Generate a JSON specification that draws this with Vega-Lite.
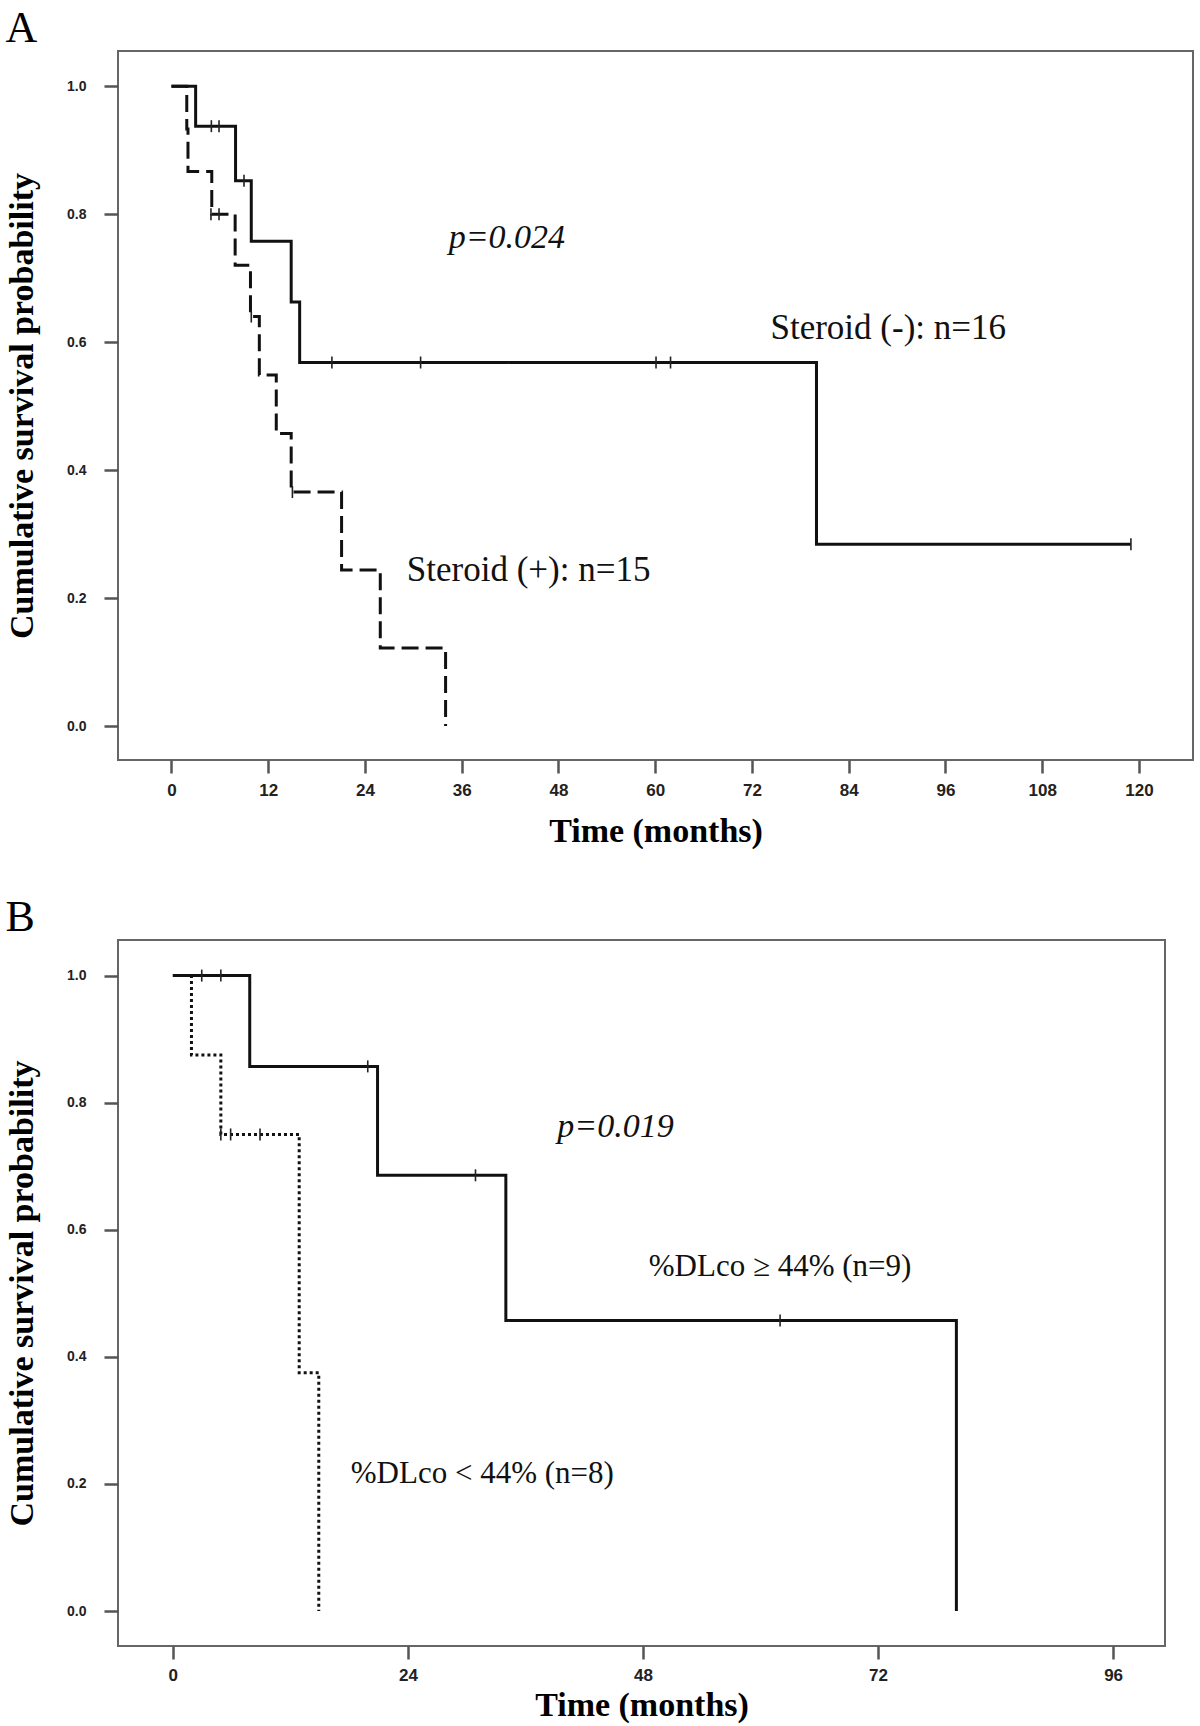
{
  "$schema": "https://vega.github.io/schema/vega-lite/v6.json",
  "background": "white",
  "padding": {"left": 4, "top": 6, "right": 0, "bottom": 0},
  "spacing": 46,
  "resolve": {"scale": {"strokeDash": "independent"}},
  "datasets": {
    "curvesA": [
      {"group": "Steroid (-)", "t": 0, "s": 1},
      {"group": "Steroid (-)", "t": 3.0, "s": 0.9375},
      {"group": "Steroid (-)", "t": 7.95, "s": 0.8523},
      {"group": "Steroid (-)", "t": 9.9, "s": 0.7576},
      {"group": "Steroid (-)", "t": 14.85, "s": 0.6629},
      {"group": "Steroid (-)", "t": 15.9, "s": 0.5682},
      {"group": "Steroid (-)", "t": 80.0, "s": 0.2841},
      {"group": "Steroid (-)", "t": 119.0, "s": 0.2841},
      {"group": "Steroid (+)", "t": 0, "s": 1},
      {"group": "Steroid (+)", "t": 1.9, "s": 0.9333},
      {"group": "Steroid (+)", "t": 2.05, "s": 0.8667},
      {"group": "Steroid (+)", "t": 5.0, "s": 0.8},
      {"group": "Steroid (+)", "t": 7.9, "s": 0.72},
      {"group": "Steroid (+)", "t": 9.8, "s": 0.64},
      {"group": "Steroid (+)", "t": 10.9, "s": 0.5486},
      {"group": "Steroid (+)", "t": 13.0, "s": 0.4571},
      {"group": "Steroid (+)", "t": 14.85, "s": 0.3657},
      {"group": "Steroid (+)", "t": 21.1, "s": 0.2438},
      {"group": "Steroid (+)", "t": 25.9, "s": 0.1219},
      {"group": "Steroid (+)", "t": 34.0, "s": 0}
    ],
    "censorA": [
      {"group": "Steroid (-)", "t": 4.95, "s": 0.9375},
      {"group": "Steroid (-)", "t": 5.9, "s": 0.9375},
      {"group": "Steroid (-)", "t": 9.0, "s": 0.8523},
      {"group": "Steroid (-)", "t": 19.9, "s": 0.5682},
      {"group": "Steroid (-)", "t": 30.9, "s": 0.5682},
      {"group": "Steroid (-)", "t": 60.1, "s": 0.5682},
      {"group": "Steroid (-)", "t": 61.9, "s": 0.5682},
      {"group": "Steroid (-)", "t": 119.0, "s": 0.2841},
      {"group": "Steroid (+)", "t": 4.9, "s": 0.8},
      {"group": "Steroid (+)", "t": 5.9, "s": 0.8},
      {"group": "Steroid (+)", "t": 9.9, "s": 0.64},
      {"group": "Steroid (+)", "t": 15.0, "s": 0.3657}
    ],
    "pA": [{"label": "p=0.024", "t": 41.6, "s": 0.762}],
    "labelsA": [
      {"label": "Steroid (-): n=16", "t": 88.9, "s": 0.622},
      {"label": "Steroid (+): n=15", "t": 44.3, "s": 0.244}
    ],
    "curvesB": [
      {"group": "high", "t": 0, "s": 1},
      {"group": "high", "t": 7.85, "s": 0.8571},
      {"group": "high", "t": 20.9, "s": 0.6857},
      {"group": "high", "t": 34.0, "s": 0.4571},
      {"group": "high", "t": 80.0, "s": 0},
      {"group": "low", "t": 0, "s": 1},
      {"group": "low", "t": 1.9, "s": 0.875},
      {"group": "low", "t": 4.9, "s": 0.75},
      {"group": "low", "t": 12.9, "s": 0.375},
      {"group": "low", "t": 14.9, "s": 0}
    ],
    "censorB": [
      {"group": "high", "t": 2.95, "s": 1},
      {"group": "high", "t": 4.9, "s": 1},
      {"group": "high", "t": 19.9, "s": 0.8571},
      {"group": "high", "t": 30.9, "s": 0.6857},
      {"group": "high", "t": 62.0, "s": 0.4571},
      {"group": "low", "t": 4.9, "s": 0.75},
      {"group": "low", "t": 5.9, "s": 0.75},
      {"group": "low", "t": 8.9, "s": 0.75}
    ],
    "pB": [{"label": "p=0.019", "t": 45.2, "s": 0.762}],
    "labelsB": [
      {"label": "%DLco ≥ 44% (n=9)", "t": 62.0, "s": 0.541},
      {"label": "%DLco < 44% (n=8)", "t": 31.6, "s": 0.216}
    ]
  },
  "vconcat": [
    {
      "title": {"text": "A", "anchor": "start", "frame": "bounds", "font": "Liberation Serif", "fontSize": 44, "fontWeight": "normal", "color": "#000", "offset": 0},
      "width": 1075,
      "height": 709,
      "layer": [
        {
          "data": {"name": "curvesA"},
          "mark": {"type": "line", "interpolate": "step-after", "strokeWidth": 3, "color": "#111", "strokeCap": "butt"},
          "encoding": {
            "x": {"field": "t", "type": "quantitative", "scale": {"domain": [-6.63, 126.7], "nice": false, "zero": false},
                  "axis": {"values": [0, 12, 24, 36, 48, 60, 72, 84, 96, 108, 120], "title": "Time (months)", "titlePadding": 16, "labelPadding": 9, "tickSize": 13, "labelFontSize": 17}},
            "y": {"field": "s", "type": "quantitative", "scale": {"domain": [-0.053, 1.055], "nice": false, "zero": false},
                  "axis": {"values": [0, 0.2, 0.4, 0.6, 0.8, 1.0], "format": ".1f", "title": "Cumulative survival probability", "titlePadding": 27, "labelPadding": 18, "tickSize": 14, "labelFontSize": 14}},
            "strokeDash": {"field": "group", "type": "nominal", "scale": {"domain": ["Steroid (-)", "Steroid (+)"], "range": [[1, 0], [17, 7]]}, "legend": null}
          }
        },
        {
          "data": {"name": "censorA"},
          "mark": {"type": "point", "shape": "M0,-1L0,1", "size": 144, "filled": false, "strokeWidth": 1.6, "color": "#222", "opacity": 1},
          "encoding": {
            "x": {"field": "t", "type": "quantitative"},
            "y": {"field": "s", "type": "quantitative"}
          }
        },
        {
          "data": {"name": "pA"},
          "mark": {"type": "text", "font": "Liberation Serif", "fontSize": 34, "fontStyle": "italic", "color": "#111"},
          "encoding": {
            "x": {"field": "t", "type": "quantitative"},
            "y": {"field": "s", "type": "quantitative"},
            "text": {"field": "label"}
          }
        },
        {
          "data": {"name": "labelsA"},
          "mark": {"type": "text", "font": "Liberation Serif", "fontSize": 35, "color": "#111"},
          "encoding": {
            "x": {"field": "t", "type": "quantitative"},
            "y": {"field": "s", "type": "quantitative"},
            "text": {"field": "label"}
          }
        }
      ]
    },
    {
      "title": {"text": "B", "anchor": "start", "frame": "bounds", "font": "Liberation Serif", "fontSize": 44, "fontWeight": "normal", "color": "#000", "offset": 0},
      "width": 1047,
      "height": 706,
      "layer": [
        {
          "data": {"name": "curvesB"},
          "mark": {"type": "line", "interpolate": "step-after", "strokeWidth": 3, "color": "#111", "strokeCap": "butt"},
          "encoding": {
            "x": {"field": "t", "type": "quantitative", "scale": {"domain": [-5.6, 101.3], "nice": false, "zero": false},
                  "axis": {"values": [0, 24, 48, 72, 96], "title": "Time (months)", "titlePadding": 5, "labelPadding": 8, "tickSize": 13, "labelFontSize": 17}},
            "y": {"field": "s", "type": "quantitative", "scale": {"domain": [-0.055, 1.056], "nice": false, "zero": false},
                  "axis": {"values": [0, 0.2, 0.4, 0.6, 0.8, 1.0], "format": ".1f", "title": "Cumulative survival probability", "titlePadding": 27, "labelPadding": 18, "tickSize": 14, "labelFontSize": 14}},
            "strokeDash": {"field": "group", "type": "nominal", "scale": {"domain": ["high", "low"], "range": [[1, 0], [3, 3]]}, "legend": null}
          }
        },
        {
          "data": {"name": "censorB"},
          "mark": {"type": "point", "shape": "M0,-1L0,1", "size": 144, "filled": false, "strokeWidth": 1.6, "color": "#222", "opacity": 1},
          "encoding": {
            "x": {"field": "t", "type": "quantitative"},
            "y": {"field": "s", "type": "quantitative"}
          }
        },
        {
          "data": {"name": "pB"},
          "mark": {"type": "text", "font": "Liberation Serif", "fontSize": 34, "fontStyle": "italic", "color": "#111"},
          "encoding": {
            "x": {"field": "t", "type": "quantitative"},
            "y": {"field": "s", "type": "quantitative"},
            "text": {"field": "label"}
          }
        },
        {
          "data": {"name": "labelsB"},
          "mark": {"type": "text", "font": "Liberation Serif", "fontSize": 31, "color": "#111"},
          "encoding": {
            "x": {"field": "t", "type": "quantitative"},
            "y": {"field": "s", "type": "quantitative"},
            "text": {"field": "label"}
          }
        }
      ]
    }
  ],
  "config": {
    "view": {"stroke": "#666", "strokeWidth": 2},
    "axis": {
      "domain": false,
      "grid": false,
      "tickColor": "#555",
      "tickWidth": 2.5,
      "labelFont": "Liberation Sans",
      "labelFontWeight": "bold",
      "labelColor": "#222",
      "titleFont": "Liberation Serif",
      "titleFontSize": 34,
      "titleFontWeight": "bold",
      "titleColor": "#000"
    }
  }
}
